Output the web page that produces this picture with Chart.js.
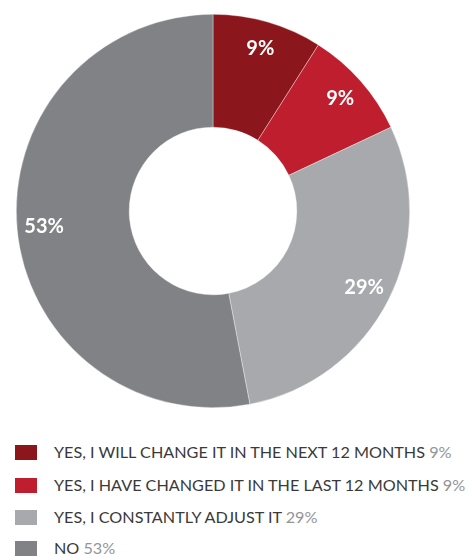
<!DOCTYPE html>
<html>
<head>
<meta charset="utf-8">
<script src="https://cdn.jsdelivr.net/npm/chart.js@4"></script>
<style>
  html, body { margin: 0; padding: 0; background: #fff; }
  body { width: 473px; height: 557px; position: relative; overflow: hidden; font-family: Lato, "Open Sans", sans-serif; }
  #wrap { position: absolute; left: 0; top: 0; width: 426px; height: 422px; }
  #legend { position: absolute; left: 0; top: 0; }
  .row { position: absolute; left: 0; white-space: nowrap; height: 20px; }
  .sw { position: absolute; left: 15px; top: 3px; width: 22px; height: 15px; }
  .txt { position: absolute; left: 54px; top: 0; font-size: 16.2px; line-height: 20px; color: #3a3a3a; }
  .pct { color: #939598; }
</style>
</head>
<body>
<div id="wrap"><canvas id="c" width="426" height="422"></canvas></div>
<div id="legend"></div>
<script>
const categories = [
  'YES, I WILL CHANGE IT IN THE NEXT 12 MONTHS',
  'YES, I HAVE CHANGED IT IN THE LAST 12 MONTHS',
  'YES, I CONSTANTLY ADJUST IT',
  'NO'
];
const shares = [9, 9, 29, 53];
const sliceColors = ['#8b161c', '#be1e2d', '#a7a9ac', '#808285'];
const legendRowTops = [442, 475, 507, 538];

// Percentage labels placed inside each ring segment
const sliceLabels = {
  id: 'sliceLabels',
  afterDatasetsDraw(chart) {
    const ctx = chart.ctx;
    const meta = chart.getDatasetMeta(0);
    ctx.save();
    ctx.fillStyle = '#ffffff';
    ctx.font = 'bold 20px Lato, "Open Sans", sans-serif';
    ctx.textAlign = 'center';
    ctx.textBaseline = 'middle';
    meta.data.forEach((arc, i) => {
      const p = arc.getProps(['x', 'y', 'startAngle', 'endAngle', 'innerRadius', 'outerRadius'], true);
      const mid = (p.startAngle + p.endAngle) / 2;
      const r = p.innerRadius + 0.76 * (p.outerRadius - p.innerRadius);
      ctx.fillText(shares[i] + '%', p.x + Math.cos(mid) * r, p.y + Math.sin(mid) * r);
    });
    ctx.restore();
  }
};

new Chart(document.getElementById('c'), {
  type: 'doughnut',
  data: {
    labels: categories,
    datasets: [{
      data: shares,
      backgroundColor: sliceColors,
      borderColor: 'rgba(255,255,255,0.6)',
      borderWidth: 0.6,
      hoverOffset: 0
    }]
  },
  options: {
    responsive: false,
    animation: false,
    cutout: '42.6%',
    layout: { padding: { left: 16, right: 16, top: 14, bottom: 14 } },
    plugins: { legend: { display: false }, tooltip: { enabled: false } }
  },
  plugins: [sliceLabels]
});

// Legend below the ring
const legend = document.getElementById('legend');
categories.forEach((name, i) => {
  const row = document.createElement('div');
  row.className = 'row';
  row.style.top = legendRowTops[i] + 'px';
  const sw = document.createElement('div');
  sw.className = 'sw';
  sw.style.background = sliceColors[i];
  const txt = document.createElement('div');
  txt.className = 'txt';
  txt.innerHTML = name + ' <span class="pct">' + shares[i] + '%</span>';
  row.appendChild(sw);
  row.appendChild(txt);
  legend.appendChild(row);
});
</script>
</body>
</html>
